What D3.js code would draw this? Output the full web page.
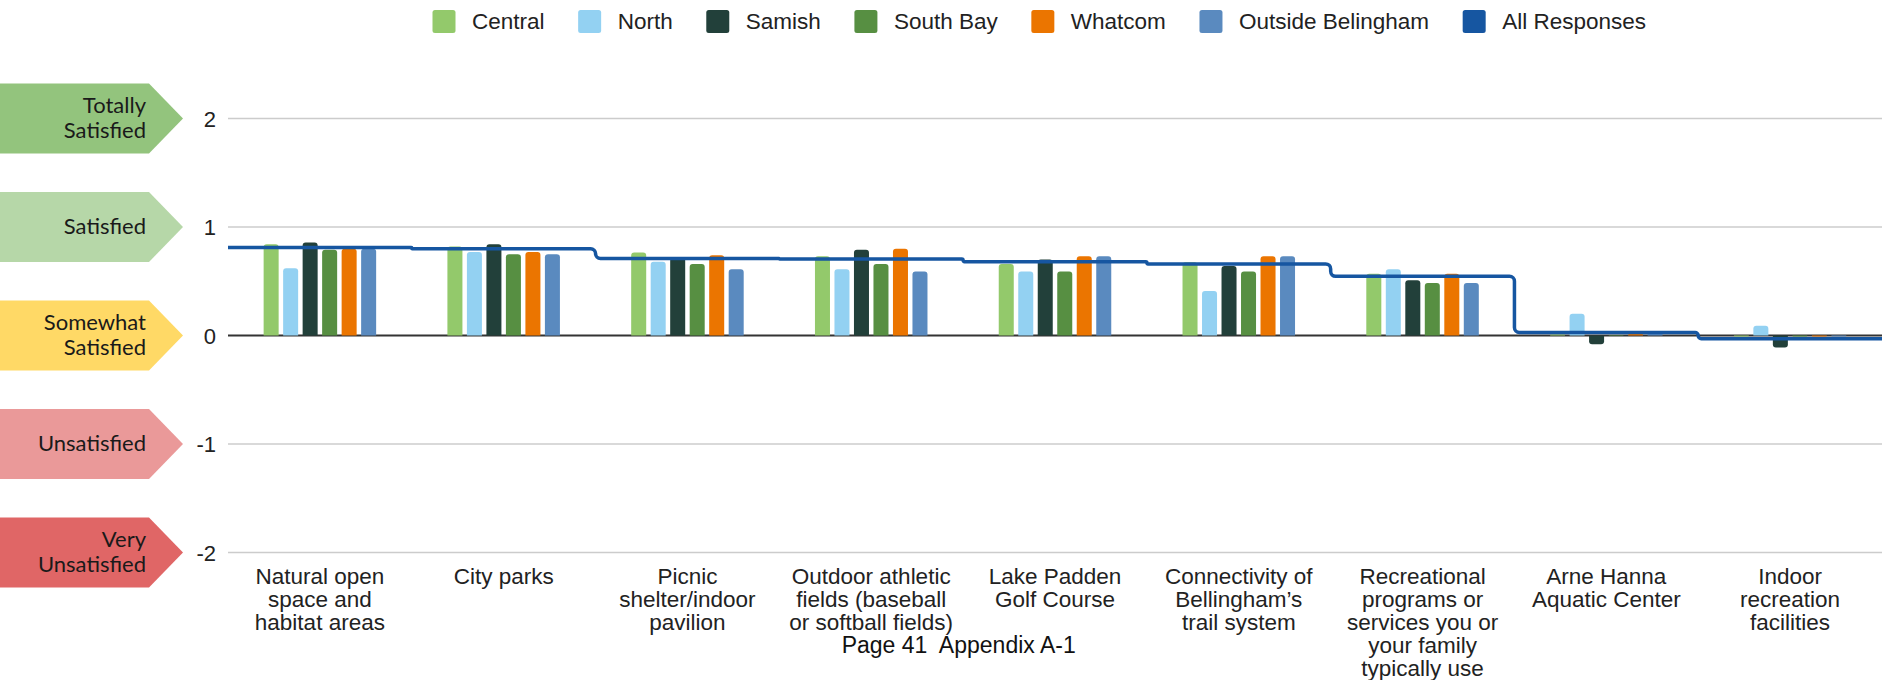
<!DOCTYPE html>
<html>
<head>
<meta charset="utf-8">
<script src="https://cdn.jsdelivr.net/npm/d3@7"></script>
<style>
  html, body { margin: 0; padding: 0; background: #fff; }
  svg { display: block; }
</style>
</head>
<body>
<svg id="chart" width="1886" height="680"></svg>
<script>
// ---------------- DATA ----------------
const categories = [
  ["Natural open", "space and", "habitat areas"],
  ["City parks"],
  ["Picnic", "shelter/indoor", "pavilion"],
  ["Outdoor athletic", "fields (baseball", "or softball fields)"],
  ["Lake Padden", "Golf Course"],
  ["Connectivity of", "Bellingham’s", "trail system"],
  ["Recreational", "programs or", "services you or", "your family", "typically use"],
  ["Arne Hanna", "Aquatic Center"],
  ["Indoor", "recreation", "facilities"]
];
const seriesNames = ["Central", "North", "Samish", "South Bay", "Whatcom", "Outside Belingham"];
const lineName = "All Responses";

const central  = [0.84, 0.82, 0.765, 0.73, 0.66, 0.675, 0.57, 0.01, -0.01];
const north    = [0.62, 0.77, 0.68, 0.61, 0.59, 0.41, 0.61, 0.20, 0.09];
const samish   = [0.857, 0.84, 0.72, 0.79, 0.70, 0.64, 0.51, -0.08, -0.11];
const southBay = [0.79, 0.75, 0.66, 0.66, 0.59, 0.59, 0.485, 0.005, -0.01];
const whatcom  = [0.80, 0.77, 0.74, 0.80, 0.73, 0.73, 0.57, 0.02, -0.01];
const outside  = [0.80, 0.75, 0.61, 0.59, 0.73, 0.73, 0.485, 0.03, -0.01];
const allResponses = [0.81, 0.80, 0.71, 0.705, 0.68, 0.66, 0.545, 0.027, -0.03];

const yTicks = [2, 1, 0, -1, -2];
const satisfactionLabels = [
  { v: 2,  lines: ["Totally", "Satisfied"] },
  { v: 1,  lines: ["Satisfied"] },
  { v: 0,  lines: ["Somewhat", "Satisfied"] },
  { v: -1, lines: ["Unsatisfied"] },
  { v: -2, lines: ["Very", "Unsatisfied"] }
];
const footerText = "Page 41  Appendix A-1";

// ---------------- STYLE ----------------
const seriesColors = ["#93c96b", "#93d1f2", "#22403a", "#578f42", "#eb7500", "#5a8abf"];
const lineColor = "#1656a1";
const arrowColors = ["#93c47d", "#b6d7a8", "#ffd966", "#ea9999", "#e06666"];
const FONT = "'Liberation Sans', Arial, Helvetica, sans-serif";
const ARROW_FONT = "Lato, 'Open Sans', sans-serif";

const seriesValues = [central, north, samish, southBay, whatcom, outside];

const svg = d3.select("#chart");
const plotLeft = 228, plotRight = 1882;

const y = d3.scaleLinear().domain([-2, 2]).range([552.5, 118.5]);
const x0 = d3.scaleBand().domain(d3.range(categories.length)).range([plotLeft, plotRight]).padding(0);
const x1 = d3.scaleBand().domain(seriesNames).range([-58.5, 58.5]).paddingInner(0.23).paddingOuter(0.115);

// ---- left arrows ----
const arrowG = svg.append("g");
satisfactionLabels.forEach((d, i) => {
  const c = y(d.v);
  const h = 35;
  arrowG.append("path")
    .attr("d", `M0,${c - h}L149,${c - h}L183,${c}L149,${c + h}L0,${c + h}Z`)
    .attr("fill", arrowColors[i]);
  const n = d.lines.length;
  d.lines.forEach((ln, k) => {
    const off = (k - (n - 1) / 2) * 25.5;
    arrowG.append("text")
      .attr("x", 146).attr("y", c + 7 + off)
      .attr("text-anchor", "end")
      .attr("font-family", ARROW_FONT)
      .attr("font-size", 22)
      .attr("fill", "#1a1a1a")
      .text(ln);
  });
});

// ---- gridlines & y ticks ----
const gridG = svg.append("g");
yTicks.forEach(t => {
  gridG.append("line")
    .attr("x1", plotLeft).attr("x2", plotRight)
    .attr("y1", y(t)).attr("y2", y(t))
    .attr("stroke", t === 0 ? "#333333" : "#cccccc")
    .attr("stroke-width", t === 0 ? 2 : 1.5);
  gridG.append("text")
    .attr("x", 216).attr("y", y(t) + 8)
    .attr("text-anchor", "end")
    .attr("font-family", FONT)
    .attr("font-size", 22)
    .attr("fill", "#222")
    .text(t);
});

// ---- bars (rounded on the far end) ----
function barPath(xl, w, v) {
  const y0 = y(0), yv = y(v);
  const hgt = Math.abs(yv - y0);
  const r = Math.min(3, hgt, w / 2);
  const p = d3.path();
  if (v >= 0) {
    p.moveTo(xl, y0);
    p.lineTo(xl, yv + r);
    p.arcTo(xl, yv, xl + r, yv, r);
    p.lineTo(xl + w - r, yv);
    p.arcTo(xl + w, yv, xl + w, yv + r, r);
    p.lineTo(xl + w, y0);
  } else {
    p.moveTo(xl, y0);
    p.lineTo(xl, yv - r);
    p.arcTo(xl, yv, xl + r, yv, r);
    p.lineTo(xl + w - r, yv);
    p.arcTo(xl + w, yv, xl + w, yv - r, r);
    p.lineTo(xl + w, y0);
  }
  p.closePath();
  return p.toString();
}

const barsG = svg.append("g");
categories.forEach((cat, i) => {
  const cx = x0(i) + x0.bandwidth() / 2;
  seriesNames.forEach((s, j) => {
    let v = seriesValues[j][i];
    barsG.append("path")
      .attr("d", barPath(cx + x1(s), x1.bandwidth(), v))
      .attr("fill", seriesColors[j]);
  });
});

// ---- step line for All Responses ----
function stepPath(vals) {
  const p = d3.path();
  const r0 = 5;
  p.moveTo(plotLeft, y(vals[0]));
  for (let i = 0; i < vals.length - 1; i++) {
    const bx = x0(i + 1);
    const ya = y(vals[i]), yb = y(vals[i + 1]);
    const dy = Math.abs(yb - ya);
    if (dy < 0.5) { p.lineTo(bx, ya); continue; }
    const r = Math.min(r0, dy / 2);
    p.arcTo(bx, ya, bx, yb, r);
    p.arcTo(bx, yb, bx + 20, yb, r);
  }
  p.lineTo(plotRight, y(vals[vals.length - 1]));
  return p.toString();
}
svg.append("path")
  .attr("d", stepPath(allResponses))
  .attr("fill", "none")
  .attr("stroke", lineColor)
  .attr("stroke-width", 3.5)
  .attr("stroke-linejoin", "round");

// ---- x labels ----
const xlG = svg.append("g");
categories.forEach((lines, i) => {
  const cx = x0(i) + x0.bandwidth() / 2;
  lines.forEach((ln, k) => {
    xlG.append("text")
      .attr("x", cx).attr("y", 583.5 + k * 23.2)
      .attr("text-anchor", "middle")
      .attr("font-family", FONT)
      .attr("font-size", 22.5)
      .attr("fill", "#222")
      .text(ln);
  });
});

// ---- footer ----
svg.append("text")
  .attr("x", 958.7).attr("y", 652.5)
  .attr("text-anchor", "middle")
  .attr("font-family", FONT)
  .attr("font-size", 23)
  .attr("fill", "#111")
  .style("white-space", "pre")
  .attr("xml:space", "preserve")
  .text(footerText);

// ---- legend ----
const legendG = svg.append("g");
const legendItems = seriesNames.map((s, j) => ({ name: s, color: seriesColors[j] }))
  .concat([{ name: lineName, color: lineColor }]);
let lx = 432.5;
legendItems.forEach(it => {
  legendG.append("rect")
    .attr("x", lx).attr("y", 10).attr("width", 23).attr("height", 23)
    .attr("rx", 2.5).attr("fill", it.color);
  const t = legendG.append("text")
    .attr("x", lx + 39.5).attr("y", 29)
    .attr("font-family", FONT)
    .attr("font-size", 22.5)
    .attr("fill", "#222")
    .text(it.name);
  lx += 39.5 + t.node().getComputedTextLength() + 33.6;
});
</script>
</body>
</html>
